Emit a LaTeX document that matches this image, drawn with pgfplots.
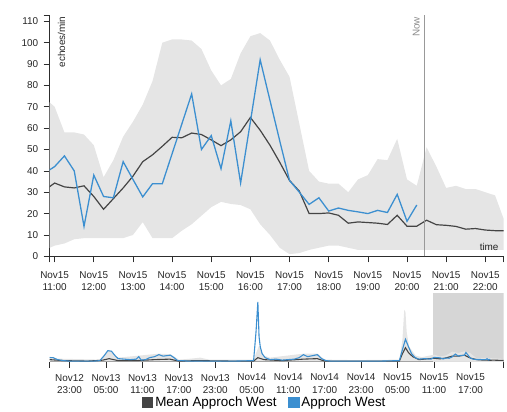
\documentclass[border=0pt]{standalone}
\usepackage{pgfplots}
\pgfplotsset{compat=1.18}
\usepackage{pgfplotstable}
\usepgfplotslibrary{fillbetween}
\usepackage{fontspec}
\setmainfont{Liberation Sans}
\definecolor{bandgray}{RGB}{229,229,229}
\definecolor{blueline}{RGB}{60,143,208}
\definecolor{meanline}{RGB}{68,68,68}
\definecolor{brushgray}{RGB}{214,214,214}
\definecolor{axisgray}{RGB}{45,45,45}

% main window: mean, band (Nov15, hour of day)
\pgfplotstableread{
t     mean  up     lo
10.75 31    74     3
11.00 34.3  70     5
11.25 32.5  58     6
11.50 32    58     8
11.75 33    57     8.5
12.00 28    52     8.5
12.25 22    37     8.5
12.50 27    45     8.5
12.75 32    56     8.5
13.00 37.5  63     10
13.25 44.3  71     16
13.50 47.5  82     8.5
13.75 51.5  100    8.5
14.00 55.7  101.5  8.5
14.25 55.5  101.5  12
14.50 57.7  101    15
14.75 57    97     19
15.00 54.5  87     23
15.25 51.8  80     25.5
15.50 54.5  83     24.5
15.75 58.3  95     24
16.00 65    103    22
16.25 59    104.5  15
16.50 52    101    10
16.75 44    92     4
17.00 35.5  84     1
17.25 30.5  62     1.5
17.50 20    40     3
17.75 20    35     4
18.00 20.3  34     5
18.25 19.2  34     5
18.50 15.5  30     4
18.75 16.1  36     3
19.00 15.8  38     3
19.25 15.5  45.5   3
19.50 14.9  45     3
19.75 19.2  55     3
20.00 14.1  36     3
20.25 14.1  33     3
20.50 16.9  51     3
20.75 14.8  42     3
21.00 14.5  32     3
21.25 14    33     3
21.50 12.7  31.5   3
21.75 13    31.5   3
22.00 12.3  30     3
22.25 12    28.5   3
22.50 12    16     3
}\maintab

\pgfplotstableread{
t     v
10.75 39
11.00 42
11.25 47
11.50 40
11.75 14
12.00 38
12.25 28
12.50 27.4
12.75 44.3
13.00 36
13.25 27.8
13.50 34
13.75 34
14.00 48
14.25 62
14.50 76
14.75 50
15.00 56.5
15.25 41
15.50 63.4
15.75 34.3
16.00 63
16.25 92
16.50 73
16.75 54
17.00 35.5
17.25 30
17.50 24.3
17.75 27.4
18.00 21.2
18.25 22.6
18.50 21.5
18.75 20.8
19.00 20
19.25 21.5
19.50 20.5
19.75 29
20.00 16.4
20.25 24
}\bluetab

% overview (hours since Nov12 00:00)
\pgfplotstableread{
t    v
19.73 40
20.3 40
21.0 20
22.0 10
23.0 5
25.0 5
27.0 5
28.0 10
28.7 60
29.3 110
29.9 105
30.5 60
31.0 30
32.0 25
33.0 20
34.0 25
34.4 50
34.8 15
35.5 20
36.2 40
37.0 50
37.7 70
38.4 55
39.0 60
39.6 65
40.2 40
40.8 10
41.5 10
42.5 5
46.0 5
50.0 5
53.3 10
53.7 300
54.0 600
54.2 250
54.4 150
54.7 80
55.2 40
56.0 20
57.0 25
58.0 15
59.0 20
60.0 25
60.8 40
61.5 70
62.2 50
63.0 60
63.8 70
64.5 30
65.2 10
66.0 5
70.0 5
74.0 5
77.3 10
77.8 120
78.3 225
78.8 150
79.3 80
79.9 40
80.5 25
81.5 30
82.5 25
83.0 42
83.5 40
84.0 38
84.5 27
85.0 36
85.5 34
86.0 48
86.5 76
87.0 56
87.5 63
88.0 63
88.25 92
88.5 73
89.0 35
89.5 24
90.0 21
90.5 21.5
91.0 20
91.5 20.5
91.75 29
92.0 16
92.25 24
}\ovblue

\pgfplotstableread{
t    v
19.73 20
22.0 10
26.0 5
28.5 15
29.5 30
31.0 10
34.0 10
37.0 20
39.5 25
41.0 5
44.0 10
50.0 5
53.3 5
54.0 40
55.0 20
58.0 10
61.5 25
63.8 30
65.0 5
77.3 5
77.8 80
78.3 140
78.8 90
79.5 50
80.5 20
83.0 34
84.0 28
85.0 37.5
86.0 55.7
87.0 54.5
88.0 65
89.0 35.5
90.0 20
91.0 16
92.0 14
93.0 14.5
94.0 12.3
94.47 12
}\ovmean

\pgfplotstableread{
t    v    lo
19.73 50  0
21.0 30   0
28.0 20   0
29.5 120  0
31.0 40   0
34.4 60   0
37.7 80   0
39.6 75   0
41.0 20   0
43.0 30   0
44.5 40   0
46.0 20   0
53.3 20   0
53.8 100  0
54.2 160  0
55.0 60   0
56.0 40   0
61.5 80   0
63.8 80   0
65.0 20   0
70.0 15   0
77.3 20   0
77.8 220  0
78.1 520  0
78.3 500  0
78.5 300  0
78.9 150  0
80.0 60   0
81.0 45   0
83.0 70   0
84.0 52   0
85.0 63   0
86.0 101  0
87.0 87   0
88.0 103  0
89.0 84   0
90.0 33   0
91.0 38   0
92.0 36   0
93.0 32   0
94.0 30   0
94.47 16  0
}\ovband

\pgfplotstableread{
t      v
82.873 690
94.47  690
}\brushtab

\begin{document}
\begin{tikzpicture}[x=1pt,y=1pt]

\begin{axis}[
  at={(50pt,154pt)}, anchor=south west, scale only axis,
  width=457pt, height=243pt,
  xmin=10.873, xmax=22.47, ymin=0, ymax=113,
  axis x line=bottom, axis y line=left,
  axis line style={-, axisgray, line width=0.6pt},
  tick align=outside, major tick length=6pt,
  tick style={axisgray, line width=0.6pt},
  xtick={11,12,...,22},
  xticklabels={{Nov15\\11:00},{Nov15\\12:00},{Nov15\\13:00},{Nov15\\14:00},{Nov15\\15:00},{Nov15\\16:00},{Nov15\\17:00},{Nov15\\18:00},{Nov15\\19:00},{Nov15\\20:00},{Nov15\\21:00},{Nov15\\22:00}},
  x tick label style={align=center, font=\fontsize{10}{12}\selectfont, text=black!85},
  xticklabel shift=5.5pt,
  ytick={0,10,...,110},
  y tick label style={font=\fontsize{10}{12}\selectfont, text=black!85},
  yticklabel shift=2pt,
  /pgf/number format/assume math mode=true,
  extra x ticks={10.873,22.47}, extra x tick labels={},
  extra y ticks={113}, extra y tick labels={},
]
\addplot[name path=up, draw=none, forget plot] table[x=t,y=up]{\maintab};
\addplot[name path=lo, draw=none, forget plot] table[x=t,y=lo]{\maintab};
\addplot[bandgray, forget plot] fill between[of=up and lo];
\addplot[meanline, line width=1.2pt] table[x=t,y=mean]{\maintab};
\addplot[blueline, line width=1.3pt] table[x=t,y=v]{\bluetab};
\draw[black!40, line width=0.7pt] (axis cs:20.434,0) -- (axis cs:20.434,113);
\node[rotate=90, anchor=south east, inner sep=1pt, text=black!45, font=\fontsize{10}{12}\selectfont] at ([xshift=-3pt, yshift=-1pt]axis cs:20.434,113) {Now};
\node[rotate=90, anchor=east, inner sep=0pt, text=black!85, font=\fontsize{10}{12}\selectfont] at ([xshift=12pt, yshift=-1.5pt]rel axis cs:0,1) {echoes/min};
\node[anchor=base east, inner sep=0pt, text=black!85, font=\fontsize{10}{12}\selectfont] at ([xshift=-5pt, yshift=6pt]rel axis cs:1,0) {time};
\end{axis}

\begin{axis}[
  at={(50pt,48pt)}, anchor=south west, scale only axis,
  width=457pt, height=69pt,
  xmin=19.73, xmax=94.47, ymin=0, ymax=690,
  axis x line=bottom, axis y line=left,
  x axis line style={-, axisgray, line width=0.6pt},
  y axis line style={draw=none},
  tick align=outside, major tick length=6pt,
  tick style={axisgray, line width=0.6pt},
  xtick={23,29,...,89},
  xticklabels={{Nov12\\23:00},{Nov13\\05:00},{Nov13\\11:00},{Nov13\\17:00},{Nov13\\23:00},{Nov14\\05:00},{Nov14\\11:00},{Nov14\\17:00},{Nov14\\23:00},{Nov15\\05:00},{Nov15\\11:00},{Nov15\\17:00}},
  x tick label style={align=center, font=\fontsize{10}{13}\selectfont, text=black!85},
  xticklabel shift=3pt,
  ytick=\empty,
  extra x ticks={19.73,94.47}, extra x tick labels={},
  legend columns=2,
  legend style={at={(0.474,0)}, anchor=center, yshift=-41pt, draw=none, fill=none,
    font=\fontsize{13.5}{15}\selectfont,
    /tikz/every even column/.append style={column sep=10pt}},
  legend image code/.code={\fill[#1] (0pt,-5pt) rectangle (10pt,5pt);},
]
\addplot[name path=brtop, draw=none, forget plot] table[x=t,y=v]{\brushtab};
\addplot[name path=brbot, draw=none, forget plot] coordinates {(82.873,0) (94.47,0)};
\addplot[brushgray, forget plot] fill between[of=brtop and brbot];
\addplot[name path=ovup, draw=none, forget plot] table[x=t,y=v]{\ovband};
\addplot[name path=ovlo, draw=none, forget plot] table[x=t,y=lo]{\ovband};
\addplot[bandgray, forget plot] fill between[of=ovup and ovlo];
\addplot[meanline, line width=1.1pt] table[x=t,y=v]{\ovmean};
\addlegendentry{Mean Approch West}
\addplot[blueline, line width=1.1pt] table[x=t,y=v]{\ovblue};
\addlegendentry{Approch West}
\end{axis}
\path (0,0) rectangle (507,412);
\end{tikzpicture}
\end{document}
